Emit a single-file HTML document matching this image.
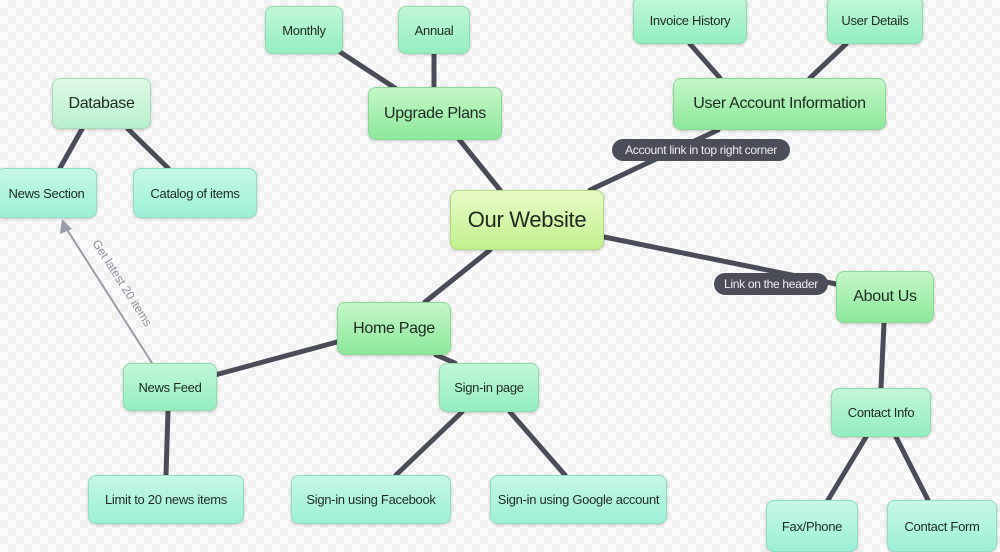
<!DOCTYPE html>
<html><head><meta charset="utf-8"><style>
html,body{margin:0;padding:0}
body{width:1000px;height:548px;position:relative;overflow:hidden;font-family:"Liberation Sans",sans-serif;
background-color:#fafafa;background-image:repeating-conic-gradient(#f1f1f1 0 25%,#fbfbfb 0 50%);background-size:16px 16px}
svg{position:absolute;left:0;top:0}
.n{position:absolute;box-sizing:border-box;border-radius:8px;display:flex;align-items:center;justify-content:center;color:#1e2a22;white-space:nowrap;box-shadow:0 1px 3px rgba(0,0,0,.2);letter-spacing:-0.3px}
.g{background:linear-gradient(#c4f7c8,#8de89a);border:1.5px solid #8ad898}
.m{background:linear-gradient(#c2f7d8,#94eec0);border:1.5px solid #8fdcae}
.t{background:linear-gradient(#c6f8e6,#9cf0d6);border:1.5px solid #92dcc4}
.p{background:linear-gradient(#dff9e6,#b9f0cc);border:1.5px solid #a8dcbb}
.root{background:linear-gradient(#e8fbc8,#c2f08e);border:1.5px solid #aedc80}
.lab{position:absolute;background:#4b4e59;color:#f0f0f0;border-radius:11px;font-size:12px;height:22px;line-height:22px;box-sizing:border-box;white-space:nowrap;text-align:center;letter-spacing:-0.3px}
</style></head><body>
<svg width="1000" height="548">
<g stroke="#4a4c57" stroke-width="5" stroke-linecap="round">
<line x1="500" y1="190" x2="458" y2="138"/>
<line x1="395" y1="88" x2="340" y2="52"/>
<line x1="434" y1="88" x2="434" y2="54"/>
<line x1="590" y1="190" x2="718" y2="130"/>
<line x1="720" y1="78" x2="690" y2="44"/>
<line x1="810" y1="78" x2="846" y2="44"/>
<line x1="604" y1="237" x2="836" y2="284"/>
<line x1="884" y1="323" x2="881" y2="388"/>
<line x1="866" y1="437" x2="828" y2="500"/>
<line x1="896" y1="437" x2="928" y2="500"/>
<line x1="490" y1="250" x2="425" y2="302"/>
<line x1="337" y1="342" x2="215" y2="375"/>
<line x1="436" y1="355" x2="455" y2="363"/>
<line x1="168" y1="411" x2="166" y2="475"/>
<line x1="462" y1="412" x2="396" y2="475"/>
<line x1="510" y1="412" x2="565" y2="475"/>
<line x1="82" y1="129" x2="60" y2="168"/>
<line x1="128" y1="129" x2="168" y2="168"/>
</g>
<line x1="152" y1="363" x2="66" y2="228" stroke="#9a9ca6" stroke-width="2"/>
<polygon points="62,219 60,234 72,229" fill="#9a9ca6"/>
<text x="0" y="0" transform="translate(92,243) rotate(57.5)" font-family="Liberation Sans,sans-serif" font-size="12" fill="#8e909a">Get latest 20 items</text>
</svg>
<div class="n root" style="left:450px;top:190px;width:154px;height:60px;font-size:22px">Our Website</div>
<div class="n g" style="left:368px;top:87px;width:134px;height:53px;font-size:16px">Upgrade Plans</div>
<div class="n m" style="left:265px;top:6px;width:78px;height:48px;font-size:13px">Monthly</div>
<div class="n m" style="left:398px;top:6px;width:72px;height:48px;font-size:13px">Annual</div>
<div class="n g" style="left:673px;top:78px;width:213px;height:52px;font-size:16px">User Account Information</div>
<div class="n m" style="left:633px;top:-4px;width:114px;height:48px;font-size:13px">Invoice History</div>
<div class="n m" style="left:827px;top:-4px;width:96px;height:48px;font-size:13px">User Details</div>
<div class="n p" style="left:52px;top:78px;width:99px;height:51px;font-size:16px">Database</div>
<div class="n t" style="left:-4px;top:168px;width:101px;height:50px;font-size:13px">News Section</div>
<div class="n t" style="left:133px;top:168px;width:124px;height:50px;font-size:13px">Catalog of items</div>
<div class="n g" style="left:337px;top:302px;width:114px;height:53px;font-size:16px">Home Page</div>
<div class="n m" style="left:123px;top:363px;width:94px;height:48px;font-size:13px">News Feed</div>
<div class="n m" style="left:439px;top:363px;width:100px;height:49px;font-size:13px">Sign-in page</div>
<div class="n t" style="left:88px;top:475px;width:156px;height:49px;font-size:13px">Limit to 20 news items</div>
<div class="n t" style="left:291px;top:475px;width:160px;height:49px;font-size:13px">Sign-in using Facebook</div>
<div class="n t" style="left:490px;top:475px;width:177px;height:49px;font-size:13px">Sign-in using Google account</div>
<div class="n g" style="left:836px;top:271px;width:98px;height:52px;font-size:16px">About Us</div>
<div class="n m" style="left:831px;top:388px;width:100px;height:49px;font-size:13px">Contact Info</div>
<div class="n t" style="left:766px;top:500px;width:92px;height:52px;font-size:13px">Fax/Phone</div>
<div class="n t" style="left:887px;top:500px;width:110px;height:52px;font-size:13px">Contact Form</div>
<div class="lab" style="left:612px;top:139px;width:178px">Account link in top right corner</div>
<div class="lab" style="left:714px;top:273px;width:114px">Link on the header</div>
</body></html>
